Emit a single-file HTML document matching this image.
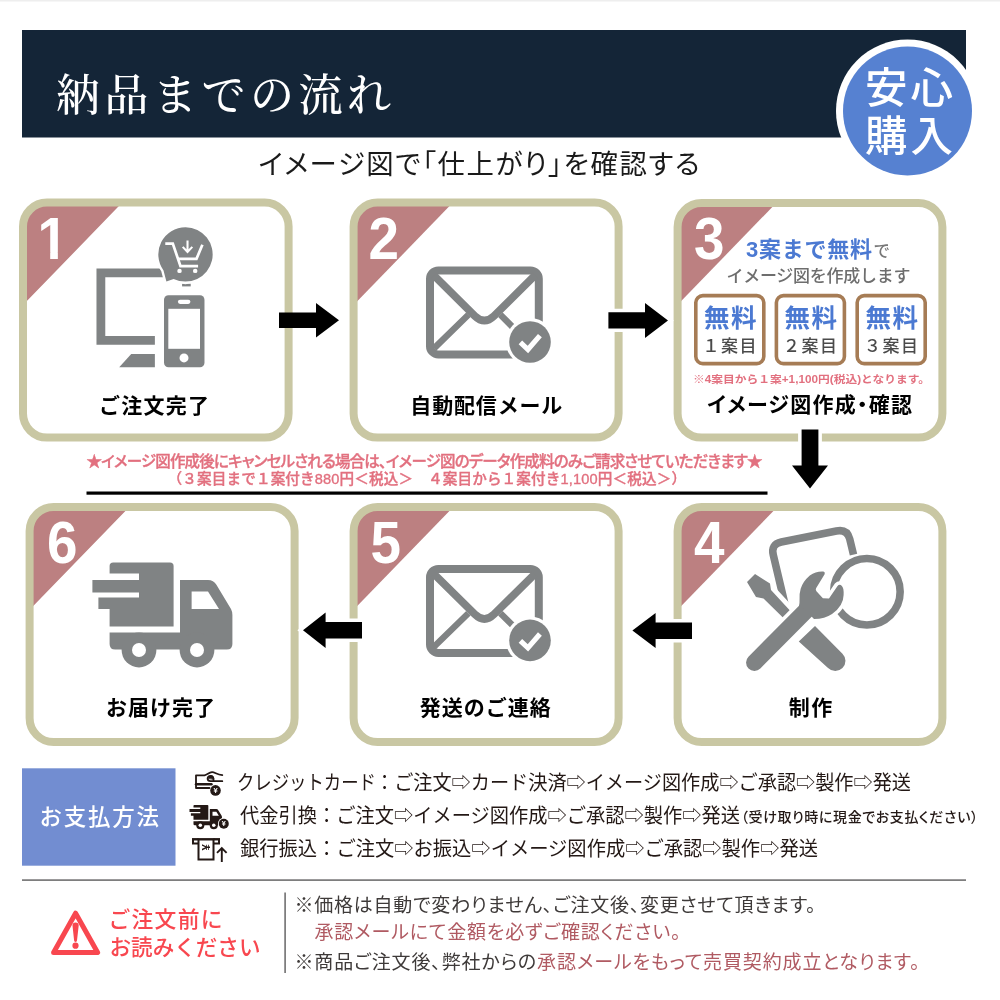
<!DOCTYPE html>
<html lang="ja">
<head>
<meta charset="utf-8">
<title>納品までの流れ</title>
<style>
html,body{margin:0;padding:0;background:#fff}
body{width:1000px;height:1000px;overflow:hidden}
svg{display:block}
text{font-family:"Liberation Sans","Noto Sans CJK JP",sans-serif;fill:#000}
.serif{font-family:"Liberation Serif","Noto Serif CJK JP","Noto Serif CJK SC",serif}
.b{font-weight:700}
.m{font-weight:500}
.num{font-family:"Liberation Sans",sans-serif;font-weight:700;font-size:59px;fill:#fff}
.lbl{font-weight:700;font-size:21px;fill:#000;text-anchor:middle}
.pink{fill:#e2707f}
.rose{fill:#b05a62}
.dk{fill:#3e3a39}
.pay{font-size:20px;fill:#231815}
.note{font-size:19px}
.box{fill:none;stroke:#c9c7a3;stroke-width:8}
.tri{fill:#bc8081}
.ic{fill:#808384}
.ics{fill:none;stroke:#808384}
</style>
</head>
<body>
<svg width="1000" height="1000" viewBox="0 0 1000 1000" style="will-change:transform">
<rect x="0" y="0" width="1000" height="1.5" fill="#eeeeee"/>
<!-- header -->
<g id="header">
<rect x="22" y="30" width="944" height="107.5" fill="#142537"/>
<text class="serif m" x="56" y="110.5" font-size="44" style="fill:#fff" textLength="335" lengthAdjust="spacing">納品までの流れ</text>
<circle cx="907.5" cy="111" r="71.5" fill="#fff"/>
<circle cx="907.5" cy="111" r="64.5" fill="#5681d1"/>
<text class="m" x="865" y="103" font-size="42.5" style="fill:#fff" textLength="88" lengthAdjust="spacing">安心</text>
<text class="m" x="865" y="151" font-size="42.5" style="fill:#fff" textLength="88" lengthAdjust="spacing">購入</text>
</g>
<text x="258.5" y="174.2" font-size="27.4" style="fill:#1a1a1a;font-feature-settings:'palt'" textLength="441" lengthAdjust="spacing">イメージ図で「仕上がり」を確認する</text>

<!-- boxes -->
<g id="boxes">
<path class="tri" d="M23,305.1 L23,226.6 A24,24 0 0 1 47,202.6 L122.3,202.6 Z"/>
<rect class="box" x="23" y="202.6" width="265.6" height="235" rx="24"/>
<path class="tri" d="M353.6,305.1 L353.6,226.6 A24,24 0 0 1 377.6,202.6 L452.9,202.6 Z"/>
<rect class="box" x="353.6" y="202.6" width="265" height="235" rx="24"/>
<path class="tri" d="M677.6,304.7 L677.6,227 A24,24 0 0 1 701.6,203 L776.2,203 Z"/>
<rect class="box" x="677.6" y="203" width="264.8" height="234.6" rx="24"/>

<path class="tri" d="M29.6,609.7 L29.6,531 A24,24 0 0 1 53.6,507 L129.3,507 Z"/>
<rect class="box" x="29.6" y="507" width="265" height="235" rx="24"/>
<path class="tri" d="M353.6,609.7 L353.6,531 A24,24 0 0 1 377.6,507 L453.3,507 Z"/>
<rect class="box" x="353.6" y="507" width="265" height="235" rx="24"/>
<path class="tri" d="M677.6,609.7 L677.6,531 A24,24 0 0 1 701.6,507 L777.3,507 Z"/>
<rect class="box" x="677.6" y="507" width="264.8" height="235" rx="24"/>
</g>

<!-- numbers -->
<g id="nums" lang="en">
<clipPath id="c1"><path d="M30,205 H80 V252.5 H57.85 V262 H50.2 V252.5 H30 Z"/></clipPath>
<text class="num" x="37.5" y="258.5" textLength="30.5" lengthAdjust="spacingAndGlyphs" clip-path="url(#c1)">1</text>
<text class="num" x="368.5" y="258.5" textLength="30.5" lengthAdjust="spacingAndGlyphs">2</text>
<text class="num" x="694" y="258.5" textLength="30.5" lengthAdjust="spacingAndGlyphs">3</text>
<text class="num" x="47" y="563" textLength="30.5" lengthAdjust="spacingAndGlyphs">6</text>
<text class="num" x="370.5" y="563" textLength="30.5" lengthAdjust="spacingAndGlyphs">5</text>
<text class="num" x="694" y="562.5" textLength="30.5" lengthAdjust="spacingAndGlyphs">4</text>
</g>

<!-- arrows -->
<g id="arrows" fill="#000" stroke="#fff" stroke-width="7" paint-order="stroke" stroke-linejoin="miter">
<path d="M279,312.5 H316 V303 L339,320.3 L316,337.6 V328 H279 Z" stroke="none"/>
<path d="M608.4,312.2 H645 V303 L668,320.5 L645,338 V328.4 H608.4 Z"/>
<path d="M801.6,429.6 H818.4 V465.6 H828 L810,488.4 L792,465.6 H801.6 Z"/>
<path d="M692,622.4 H655.6 V613 L632.4,630.5 L655.6,648 V639 H692 Z"/>
<path d="M362,622 H325.6 V612.4 L303,630.2 L325.6,648 V638.4 H362 Z"/>
</g>

<!-- labels -->
<g id="labels">
<text class="lbl" x="154" y="412.5" textLength="110" lengthAdjust="spacing">ご注文完了</text>
<text class="lbl" x="486.3" y="412.5" textLength="152" lengthAdjust="spacing">自動配信メール</text>
<text class="lbl" x="809.6" y="411.8" font-size="21" style="font-feature-settings:'palt'" textLength="205" lengthAdjust="spacing">イメージ図作成・確認</text>
<text class="lbl" x="160.5" y="714.8" textLength="109" lengthAdjust="spacing">お届け完了</text>
<text class="lbl" x="485.2" y="714.8" textLength="131" lengthAdjust="spacing">発送のご連絡</text>
<text class="lbl" x="810.4" y="714.8" textLength="43.5" lengthAdjust="spacing">制作</text>
</g>

<!-- cancel note -->
<g id="cancel" style="stroke:#e2707f;stroke-width:0.35">
<text class="m pink" x="86.5" y="466.5" font-size="15.5" style="font-feature-settings:'palt'" textLength="676" lengthAdjust="spacing">★イメージ図作成後にキャンセルされる場合は、イメージ図のデータ作成料のみご請求させていただきます★</text>
<text class="m pink" x="167.5" y="484" font-size="14.6" textLength="518.5" lengthAdjust="spacing">（３案目まで１案付き880円＜税込＞　４案目から１案付き1,100円＜税込＞）</text>
<rect x="86.5" y="491.5" width="681" height="3.2" fill="#000" stroke="none"/>
</g>

<!-- box3 contents -->
<g id="box3">
<text class="b" x="746" y="256.5" font-size="22" style="fill:#4b79d2" textLength="126" lengthAdjust="spacing">3案まで無料</text>
<text class="m" x="873.5" y="256.5" font-size="16.5" style="fill:#777">で</text>
<text class="m" x="726.5" y="281.5" font-size="17" style="fill:#6e6e6e" textLength="184" lengthAdjust="spacing">イメージ図を作成します</text>
<g fill="#fff" stroke="#a67c55" stroke-width="3.6">
<rect x="695.8" y="295.6" width="68" height="68" rx="7"/>
<rect x="776.4" y="295.6" width="68" height="68" rx="7"/>
<rect x="857.2" y="295.6" width="68" height="68" rx="7"/>
</g>
<g class="b" font-size="25.5">
<text x="704" y="327" style="fill:#4b79d2" textLength="52.5" lengthAdjust="spacing">無料</text>
<text x="784.6" y="327" style="fill:#4b79d2" textLength="52.5" lengthAdjust="spacing">無料</text>
<text x="865.4" y="327" style="fill:#4b79d2" textLength="52.5" lengthAdjust="spacing">無料</text>
</g>
<g font-size="17" class="m">
<text x="702.5" y="351.5" style="fill:#4a4a4a" textLength="54" lengthAdjust="spacing">１案目</text>
<text x="783" y="351.5" style="fill:#4a4a4a" textLength="54" lengthAdjust="spacing">２案目</text>
<text x="864" y="351.5" style="fill:#4a4a4a" textLength="54" lengthAdjust="spacing">３案目</text>
</g>
<text class="b pink" x="693" y="383" font-size="10.3" textLength="237" lengthAdjust="spacingAndGlyphs">※4案目から１案+1,100円(税込)となります。</text>
</g>

<!-- payment -->
<g id="payment">
<rect x="22" y="768.3" width="153.5" height="97.4" fill="#728dd1"/>
<text class="m" x="39.5" y="824.5" font-size="22.5" style="fill:#fff" textLength="119.5" lengthAdjust="spacing">お支払方法</text>
<text class="pay" x="237" y="789.5" textLength="139" lengthAdjust="spacingAndGlyphs">クレジットカード</text>
<text class="pay" x="375" y="789.5" textLength="536" lengthAdjust="spacingAndGlyphs">：ご注文⇨カード決済⇨イメージ図作成⇨ご承認⇨製作⇨発送</text>
<text class="pay" x="240" y="823" textLength="500" lengthAdjust="spacingAndGlyphs">代金引換：ご注文⇨イメージ図作成⇨ご承認⇨製作⇨発送</text>
<text class="pay m" x="741" y="822" style="font-size:14px;font-feature-settings:'palt'" textLength="237" lengthAdjust="spacing">（受け取り時に現金でお支払ください）</text>
<text class="pay" x="240" y="856" textLength="578" lengthAdjust="spacingAndGlyphs">銀行振込：ご注文⇨お振込⇨イメージ図作成⇨ご承認⇨製作⇨発送</text>
</g>

<!-- bottom -->
<g id="bottom">
<rect x="22" y="879.3" width="944" height="1.6" fill="#717071"/>
<rect x="284.3" y="892.5" width="1.6" height="80.5" fill="#717071"/>
<text class="m" x="108.5" y="927" font-size="21.8" style="fill:#f8474f" textLength="114" lengthAdjust="spacing">ご注文前に</text>
<text class="m" x="109.5" y="955" font-size="21.8" style="fill:#f8474f" textLength="151" lengthAdjust="spacingAndGlyphs">お読みください</text>
<g style="font-feature-settings:'palt'">
<text class="note dk" x="294.5" y="912" textLength="521" lengthAdjust="spacing">※価格は自動で変わりません、ご注文後、変更させて頂きます。</text>
<text class="note rose" x="314.5" y="939" textLength="366" lengthAdjust="spacing">承認メールにて金額を必ずご確認ください。</text>
<text class="note dk" x="294.5" y="968.5" textLength="625" lengthAdjust="spacing">※商品ご注文後、弊社からの<tspan class="rose">承認メールをもって売買契約成立となります。</tspan></text>
</g>
</g>

<!-- icon1: monitor / phone / cart -->
<g id="icon1" transform="translate(80,220) scale(0.16)">
<path class="ic" d="M103,303 H560 V358 H158 V725 H468 V780 H103 Z"/>
<polygon class="ic" points="320,838 468,838 468,920 245,920"/>
<rect class="ic" x="525" y="470" width="253" height="450" rx="28"/>
<rect x="552" y="555" width="198" height="250" fill="#fff"/>
<rect x="612" y="498" width="78" height="27" rx="13.5" fill="#fff"/>
<circle cx="650" cy="862" r="28" fill="#fff"/>
<rect class="ic" x="638" y="398" width="54" height="17"/>
<path class="ic" d="M660,45 A170,170 0 1 1 585,368 L540,385 L522,315 A170,170 0 0 1 660,45 Z" stroke="#fff" stroke-width="30" paint-order="stroke"/>
<g fill="none" stroke="#fff" stroke-width="17">
<path d="M533,148 H580 L628,288 H738"/>
<path d="M612,243 H728 L765,155"/>
<path d="M672,128 V198 M642,168 L672,200 L702,168" stroke-width="13"/>
</g>
<circle cx="622" cy="318" r="14" fill="#fff"/>
<circle cx="720" cy="318" r="14" fill="#fff"/>
</g>
<!-- icon2: envelope -->
<g id="icon2" transform="translate(410,250) scale(0.16)">
<g id="env">
<rect class="ics" x="125" y="128" width="680" height="525" rx="52" stroke-width="50"/>
<path class="ics" d="M150,160 L405,412 Q465,470 525,412 L780,160" stroke-width="48" stroke-linejoin="round"/>
<path class="ics" d="M365,405 L150,615 M565,405 L700,540" stroke-width="40"/>
<circle cx="750" cy="575" r="150" fill="#fff"/>
<circle class="ic" cx="750" cy="575" r="130"/>
<path d="M690,578 L737,622 L812,535" fill="none" stroke="#fff" stroke-width="32"/>
</g>
</g>
<!-- icon5: envelope (row 2) -->
<use href="#env" transform="translate(410,548.4) scale(0.16)"/>
<!-- icon6: truck -->
<g id="icon6" transform="translate(80,540) scale(0.2)">
<path class="ic" d="M148,130 Q148,112 166,112 H450 Q468,112 468,130 V432 H148 V345 H92 V288 H295 V262 H62 V200 H295 V168 H148 Z"/>
<path class="ic" d="M500,200 H640 Q668,200 682,224 L755,345 Q762,358 762,375 V520 Q762,548 734,548 H176 Q148,548 148,520 V462 H500 Z"/>
<polygon points="558,258 640,258 695,345 558,345" fill="#fff"/>
<circle class="ic" cx="295" cy="550" r="87"/><circle cx="295" cy="550" r="35" fill="#fff"/>
<circle class="ic" cx="585" cy="550" r="87"/><circle cx="585" cy="550" r="35" fill="#fff"/>
</g>
<!-- icon4: tools -->
<g id="icon4" transform="translate(730,510) scale(0.19)">
<path class="ics" d="M290,500 L228,238 Q214,180 270,168 L560,110 Q616,99 630,152 L650,235" stroke-width="40"/>
<circle class="ics" cx="720.5" cy="430" r="175" stroke-width="40"/>
<!-- screwdriver -->
<g class="ic">
<path d="M89.5,379 L131.6,336.8 L210.5,386.8 L215.8,421 L330,545 L293,580 L176.3,465.8 L136.8,457.9 Z" stroke="#fff" stroke-width="50" paint-order="stroke"/>
<path d="M447.4,610.5 L592,756 A53.7,53.7 0 0 1 516,832 L362,692.6 Z"/>
</g>
<!-- wrench -->
<g>
<path d="M128.4,803 L430,499" stroke="#fff" stroke-width="126" stroke-linecap="round" fill="none"/>
<path d="M484,324 Q502,320 498,338 L453,412 Q449,420 455,427 L489,464 L521,466 L566,400 Q577,388 589,400 Q600,412 598,447 Q597,505 537,547 Q500,572 442,574 L400,530 L363,505 Q367,490 366,474 Q364,440 372,415 Q383,377 420,345 Q450,324 484,324 Z" fill="#fff" stroke="#fff" stroke-width="38" stroke-linejoin="round"/>
<path d="M128.4,803 L430,499" stroke="#808384" stroke-width="88" stroke-linecap="round" fill="none"/>
<path class="ic" d="M484,324 Q502,320 498,338 L453,412 Q449,420 455,427 L489,464 L521,466 L566,400 Q577,388 589,400 Q600,412 598,447 Q597,505 537,547 Q500,572 442,574 L400,530 L363,505 Q367,490 366,474 Q364,440 372,415 Q383,377 420,345 Q450,324 484,324 Z"/>
</g>
</g>

<!-- payment icons -->
<g id="payicons" fill="#231815">
<!-- credit card in hand -->
<g fill="none" stroke="#231815" stroke-width="1.8" stroke-linecap="round" stroke-linejoin="round">
<path d="M209.5,788 H196 V775.3 H204.5 C207.5,774.6 209,772.3 212,772.2 C215,772.1 216.5,774.6 222.3,775.2"/>
<path d="M196,784.2 H211.5" stroke-width="2.4"/>
<path d="M213.5,780.6 C213.8,777.8 213,776.2 211,776 C208.5,775.8 207.6,777.2 207.6,778.6 C207.6,780.3 208.8,781.2 210.5,781.2 H222.3"/>
<path d="M208.6,778.2 C208.8,776.2 210.2,775.7 211.6,775.9 C213.3,776.1 213.9,777.4 213.7,779 Z" fill="#231815" stroke-width="0.8"/>
</g>
<circle cx="215.5" cy="790.4" r="5.3"/>
<text x="215.5" y="793.1" font-size="7.5" text-anchor="middle" class="b" style="fill:#fff">¥</text>
<!-- truck -->
<g transform="translate(186.62,799.8) scale(0.0464)">
<path d="M148,130 Q148,112 166,112 H450 Q468,112 468,130 V432 H148 V345 H92 V288 H295 V262 H62 V200 H295 V168 H148 Z"/>
<path d="M500,200 H640 Q668,200 682,224 L755,345 Q762,358 762,375 V520 Q762,548 734,548 H176 Q148,548 148,520 V462 H500 Z"/>
<polygon points="558,258 640,258 695,345 558,345" fill="#fff"/>
<circle cx="295" cy="550" r="87"/><circle cx="295" cy="550" r="38" fill="#fff"/>
<circle cx="585" cy="550" r="87"/><circle cx="585" cy="550" r="38" fill="#fff"/>
</g>
<circle cx="223.8" cy="823.7" r="5.9" fill="#fff"/>
<circle cx="223.8" cy="823.7" r="5"/>
<text x="223.8" y="826.3" font-size="7.2" text-anchor="middle" class="b" style="fill:#fff">¥</text>
<!-- ATM -->
<g fill="none" stroke="#231815" stroke-width="2">
<path d="M198.5,839.3 H193 V843.5 H198.5 M213.5,839.3 H219 V843.5 H213.5"/>
<path d="M192,839.3 H220" />
<rect x="198.5" y="839.3" width="15" height="20.2"/>
<path d="M221.8,862 V848.5 M217,852.8 L221.8,848 L226.6,852.8" stroke-width="1.9"/>
</g>
<text transform="translate(205.8,847.3) rotate(-90)" x="0" y="4" font-size="11.5" text-anchor="middle" class="b" style="fill:#231815">¥</text>
</g>
<!-- warning -->
<g id="warn">
<path d="M75.6,913.2 L97.6,952.5 H53.6 Z" fill="none" stroke="#f8474f" stroke-width="5" stroke-linejoin="round"/>
<path d="M72.5,925.6 A3.1,3.1 0 0 1 78.7,925.6 L77,940.6 A1.45,1.45 0 0 1 74.1,940.6 Z" fill="#f8474f"/>
<circle cx="75.5" cy="945.7" r="3.1" fill="#f8474f"/>
</g>

</svg>
</body>
</html>
